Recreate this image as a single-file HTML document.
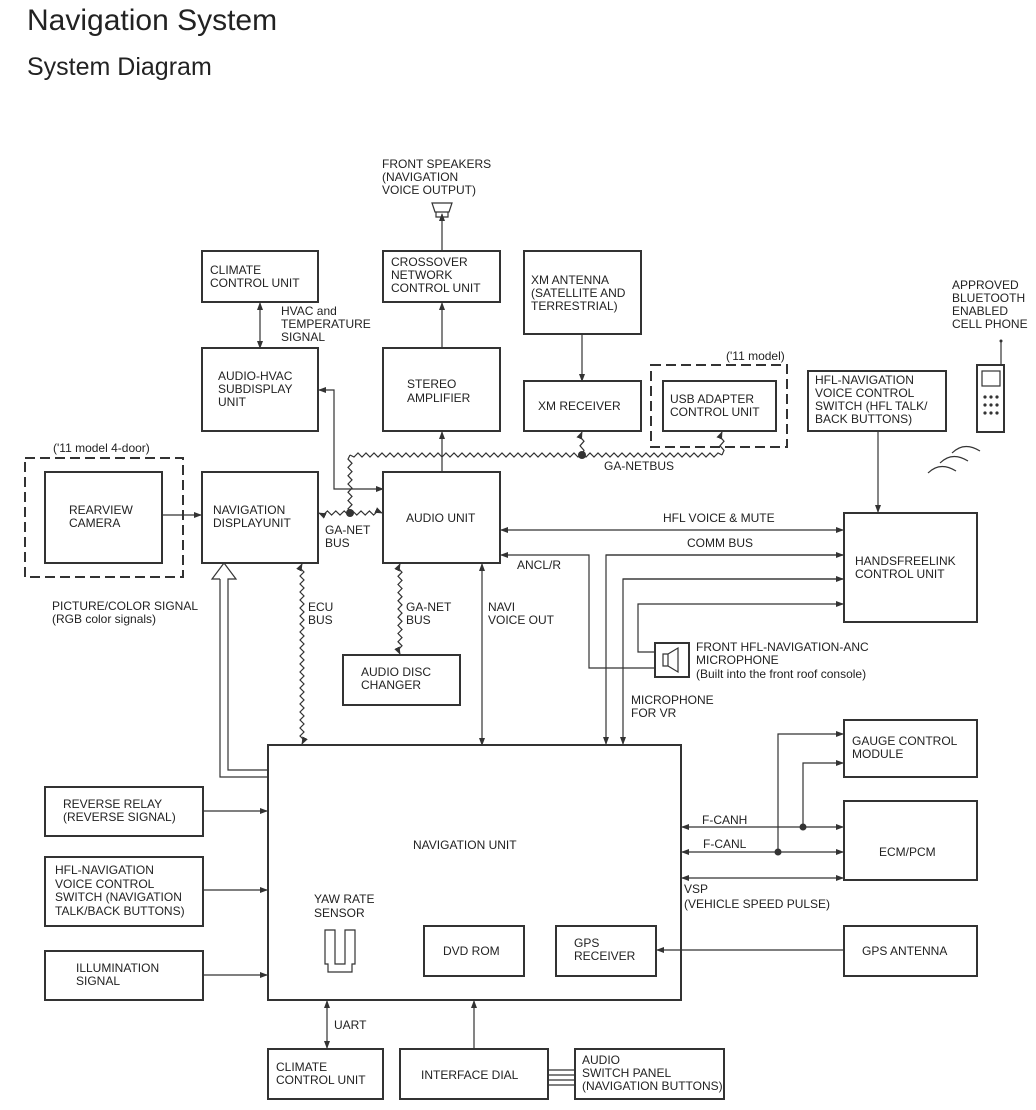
<!DOCTYPE html>
<html><head><meta charset="utf-8"><style>
body{margin:0;background:#fff;width:1036px;height:1110px;overflow:hidden}
svg{position:absolute;left:0;top:0}
text{font-family:"Liberation Sans",sans-serif;font-size:12px;fill:#222}
.b{fill:none;stroke:#333;stroke-width:2}
.l{fill:none;stroke:#333;stroke-width:1.2}
.d{fill:none;stroke:#333;stroke-width:2;stroke-dasharray:10 5}
</style></head><body>
<svg width="1036" height="1110" viewBox="0 0 1036 1110" id="s">
<defs><marker id="a" markerWidth="8" markerHeight="8" refX="7" refY="4" orient="auto-start-reverse" markerUnits="userSpaceOnUse"><path d="M0,1 L8,4 L0,7z" fill="#333"/></marker></defs>
<text x="27" y="30" style="font-size:30px;fill:#222">Navigation System</text>
<text x="27" y="75" style="font-size:25px;fill:#222">System Diagram</text>

<rect class="b" x="202" y="251" width="116" height="51"/>
<text x="210" y="274">CLIMATE</text><text x="210" y="287">CONTROL UNIT</text>
<rect class="b" x="383" y="251" width="117" height="51"/>
<text x="391" y="266">CROSSOVER</text><text x="391" y="279">NETWORK</text><text x="391" y="292">CONTROL UNIT</text>
<rect class="b" x="524" y="251" width="117" height="83"/>
<text x="531" y="284">XM ANTENNA</text><text x="531" y="297">(SATELLITE AND</text><text x="531" y="310">TERRESTRIAL)</text>
<text x="382" y="168">FRONT SPEAKERS</text><text x="382" y="181">(NAVIGATION</text><text x="382" y="194">VOICE OUTPUT)</text>
<path class="l" d="M432,203 h20 l-3,9 h-14z M436,212 v5 h12 v-5" stroke-width="1.6"/>
<text x="281" y="315">HVAC and</text><text x="281" y="328">TEMPERATURE</text><text x="281" y="341">SIGNAL</text>

<rect class="b" x="202" y="348" width="116" height="83"/>
<text x="218" y="380">AUDIO-HVAC</text><text x="218" y="393">SUBDISPLAY</text><text x="218" y="406">UNIT</text>
<rect class="b" x="383" y="348" width="117" height="83"/>
<text x="407" y="388">STEREO</text><text x="407" y="402">AMPLIFIER</text>
<rect class="b" x="524" y="381" width="117" height="50"/>
<text x="538" y="410">XM RECEIVER</text>
<rect class="d" x="651" y="365" width="136" height="82"/>
<text x="726" y="360">('11 model)</text>
<rect class="b" x="663" y="381" width="113" height="50"/>
<text x="670" y="403">USB ADAPTER</text><text x="670" y="416">CONTROL UNIT</text>

<rect class="d" x="25" y="458" width="158" height="119"/>
<text x="53" y="452">('11 model 4-door)</text>
<rect class="b" x="45" y="472" width="117" height="91"/>
<text x="69" y="514">REARVIEW</text><text x="69" y="527">CAMERA</text>
<rect class="b" x="202" y="472" width="116" height="91"/>
<text x="213" y="514">NAVIGATION</text><text x="213" y="527">DISPLAYUNIT</text>
<rect class="b" x="383" y="472" width="117" height="91"/>
<text x="406" y="522">AUDIO UNIT</text>
<text x="325" y="534">GA-NET</text><text x="325" y="547">BUS</text>
<text x="604" y="470">GA-NETBUS</text>

<rect class="b" x="343" y="655" width="117" height="50"/>
<text x="361" y="676">AUDIO DISC</text><text x="361" y="689">CHANGER</text>
<text x="308" y="611">ECU</text><text x="308" y="624">BUS</text>
<text x="406" y="611">GA-NET</text><text x="406" y="624">BUS</text>
<text x="488" y="611">NAVI</text><text x="488" y="624">VOICE OUT</text>
<text x="52" y="610">PICTURE/COLOR SIGNAL</text><text x="52" y="623">(RGB color signals)</text>
<text x="517" y="569">ANCL/R</text>
<text x="663" y="522">HFL VOICE &amp; MUTE</text>
<text x="687" y="547">COMM BUS</text>

<rect class="b" x="808" y="371" width="138" height="60"/>
<text x="815" y="384">HFL-NAVIGATION</text><text x="815" y="397">VOICE CONTROL</text><text x="815" y="410">SWITCH (HFL TALK/</text><text x="815" y="423">BACK BUTTONS)</text>
<text x="952" y="289">APPROVED</text><text x="952" y="302">BLUETOOTH</text><text x="952" y="315">ENABLED</text><text x="952" y="328">CELL PHONE</text>
<rect class="b" x="977" y="365" width="27" height="67" stroke-width="1.6"/>
<rect class="l" x="982" y="371" width="18" height="15"/>
<g fill="#333"><circle cx="985" cy="397" r="1.6"/><circle cx="991" cy="397" r="1.6"/><circle cx="997" cy="397" r="1.6"/><circle cx="985" cy="405" r="1.6"/><circle cx="991" cy="405" r="1.6"/><circle cx="997" cy="405" r="1.6"/><circle cx="985" cy="413" r="1.6"/><circle cx="991" cy="413" r="1.6"/><circle cx="997" cy="413" r="1.6"/><circle cx="1001" cy="341" r="1.5"/></g>
<path class="l" d="M1001,341 V365"/>
<path class="l" d="M928,473 q12,-12 28,-2 M940,463 q12,-12 28,-2 M952,453 q12,-12 28,-2"/>

<rect class="b" x="844" y="513" width="133" height="109"/>
<text x="855" y="565">HANDSFREELINK</text><text x="855" y="578">CONTROL UNIT</text>
<rect class="b" x="655" y="643" width="34" height="34"/>
<path class="l" d="M663,654 h5 v12 h-5z M668,654 l10,-6 v24 l-10,-6" stroke-width="1.4"/>
<text x="696" y="651">FRONT HFL-NAVIGATION-ANC</text><text x="696" y="664">MICROPHONE</text><text x="696" y="678">(Built into the front roof console)</text>
<text x="631" y="704">MICROPHONE</text><text x="631" y="717">FOR VR</text>

<rect class="b" x="844" y="720" width="133" height="57"/>
<text x="852" y="745">GAUGE CONTROL</text><text x="852" y="758">MODULE</text>
<rect class="b" x="844" y="801" width="133" height="79"/>
<text x="879" y="856">ECM/PCM</text>
<text x="702" y="824">F-CANH</text><text x="703" y="848">F-CANL</text>
<text x="684" y="893">VSP</text><text x="684" y="908">(VEHICLE SPEED PULSE)</text>
<rect class="b" x="844" y="926" width="133" height="50"/>
<text x="862" y="955">GPS ANTENNA</text>

<rect class="b" x="268" y="745" width="413" height="255"/>
<text x="413" y="849">NAVIGATION UNIT</text>
<text x="314" y="903">YAW RATE</text><text x="314" y="917">SENSOR</text>
<path class="l" stroke-width="1.6" d="M325,930 h10 v34 h10 v-34 h10 v34 h-3 v8 h-24 v-8 h-3z"/>
<rect class="b" x="424" y="926" width="100" height="50"/>
<text x="443" y="955">DVD ROM</text>
<rect class="b" x="556" y="926" width="100" height="50"/>
<text x="574" y="947">GPS</text><text x="574" y="960">RECEIVER</text>

<rect class="b" x="45" y="787" width="158" height="49"/>
<text x="63" y="808">REVERSE RELAY</text><text x="63" y="821">(REVERSE SIGNAL)</text>
<rect class="b" x="45" y="857" width="158" height="69"/>
<text x="55" y="874">HFL-NAVIGATION</text><text x="55" y="888">VOICE CONTROL</text><text x="55" y="901">SWITCH (NAVIGATION</text><text x="55" y="915">TALK/BACK BUTTONS)</text>
<rect class="b" x="45" y="951" width="158" height="49"/>
<text x="76" y="972">ILLUMINATION</text><text x="76" y="985">SIGNAL</text>

<rect class="b" x="268" y="1049" width="115" height="50"/>
<text x="276" y="1071">CLIMATE</text><text x="276" y="1084">CONTROL UNIT</text>
<text x="334" y="1029">UART</text>
<rect class="b" x="400" y="1049" width="148" height="50"/>
<text x="421" y="1079">INTERFACE DIAL</text>
<rect class="b" x="575" y="1049" width="149" height="50"/>
<text x="582" y="1064">AUDIO</text><text x="582" y="1077">SWITCH PANEL</text><text x="582" y="1090">(NAVIGATION BUTTONS)</text>
<path class="l" d="M548,1070 h27 M548,1075 h27 M548,1080 h27 M548,1085 h27"/>

<g class="l" marker-end="url(#a)">
<path d="M442,251 V214"/>
<path d="M442,348 V303"/>
<path d="M442,472 V432"/>
<path d="M582,334 V381"/>
<path d="M260,348 V303" marker-start="url(#a)"/>
<path d="M383,489 H334 V390 H319" marker-start="url(#a)"/>
<path d="M162,515 H201"/>
<path d="M482,745 V564" marker-start="url(#a)"/>
<path d="M501,530 H843" marker-start="url(#a)"/>
<path d="M655,668 H589 V555 H501"/>
<path d="M843,555 H606 V744"/>
<path d="M606,555 H843"/>
<path d="M843,579 H623 V744"/>
<path d="M623,579 H843"/>
<path d="M655,652 H638 V604 H843"/>
<path d="M878,431 V512"/>
<path d="M682,827 H843" marker-start="url(#a)"/>
<path d="M682,852 H843" marker-start="url(#a)"/>
<path d="M682,878 H843" marker-start="url(#a)"/>
<path d="M778,852 V734 H843"/>
<path d="M803,827 V763 H843"/>
<path d="M844,950 H657"/>
<path d="M203,811 H267"/>
<path d="M203,890 H267"/>
<path d="M203,975 H267"/>
<path d="M327,1048 V1001" marker-start="url(#a)"/>
<path d="M474,1049 V1001"/>
</g>
<g fill="#333"><circle cx="350" cy="513" r="4"/><circle cx="582" cy="455" r="4"/><circle cx="803" cy="827" r="3.5"/><circle cx="778" cy="852" r="3.5"/></g>
<path class="l" d="M220,579 H212 L224,563 L236,579 H228 V770 H268 M268,777 H220 V579"/>
<g id="w" class="l" stroke-width="1.1"></g>
</svg>
<script>
var g=document.getElementById('w'),ns='http://www.w3.org/2000/svg';
function zz(x1,y1,x2,y2,ma,mb){var dx=x2-x1,dy=y2-y1,L=Math.hypot(dx,dy),ux=dx/L,uy=dy/L,px=-uy,py=ux,n=Math.floor(L/4),d='M'+x1+','+y1;
for(var i=1;i<=n;i++){var t=i*L/n,o=(i%2?2:-2);if(i==n)o=0;d+=' L'+(x1+ux*t+px*o).toFixed(1)+','+(y1+uy*t+py*o).toFixed(1);}
var p=document.createElementNS(ns,'path');p.setAttribute('d',d);if(ma)p.setAttribute('marker-start','url(#a)');if(mb)p.setAttribute('marker-end','url(#a)');g.appendChild(p);}
zz(350,455,350,513);zz(350,455,722,455);zz(722,455,722,432,0,1);zz(582,455,582,432,0,1);
zz(319,513,382,513,1,1);zz(302,564,302,744,1,1);zz(400,564,400,654,1,1);
</script>
</body></html>
